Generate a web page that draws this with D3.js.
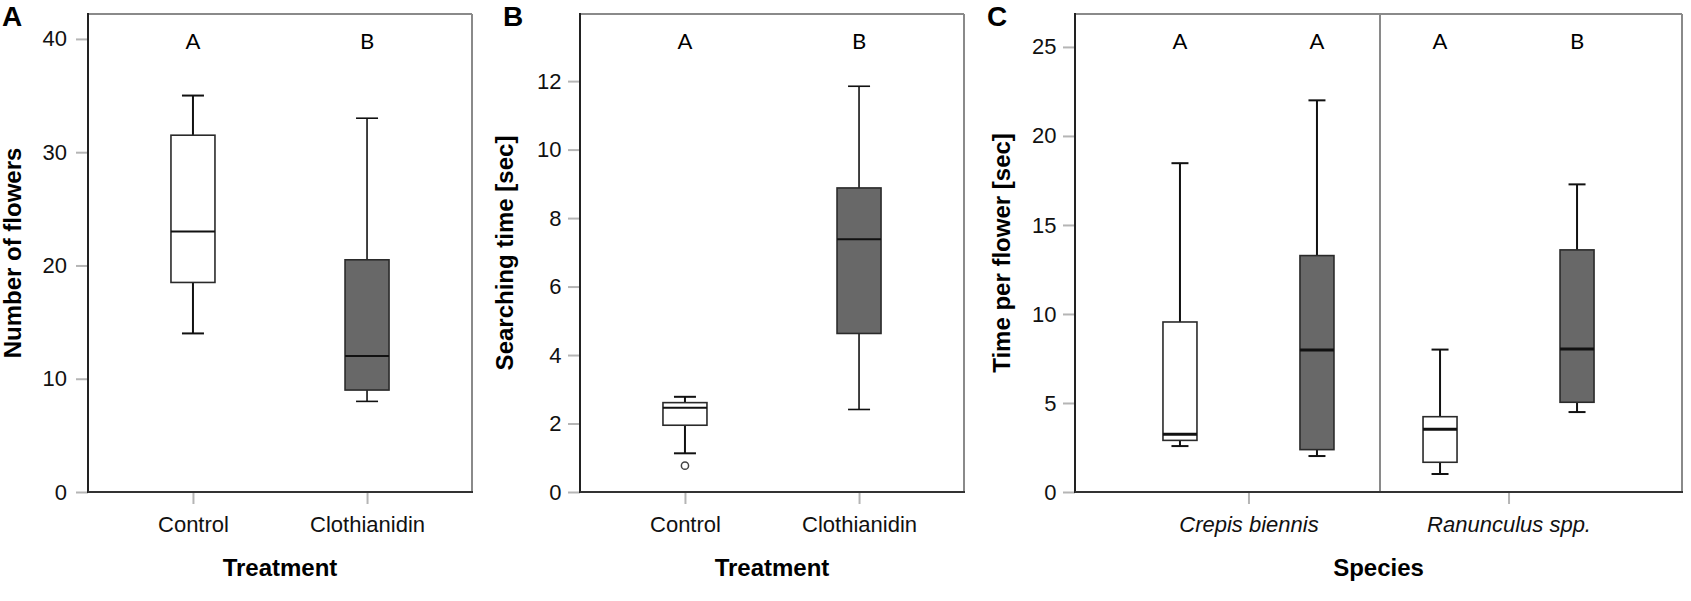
<!DOCTYPE html>
<html>
<head>
<meta charset="utf-8">
<script src="https://cdn.jsdelivr.net/npm/d3@7/dist/d3.min.js"></script>
<style>
  html, body { margin: 0; padding: 0; background: #fff; }
  svg { display: block; }
</style>
</head>
<body>
<svg id="chart" width="1691" height="601"></svg>
<script>
// ---------------- DATA ----------------
const treatments = ["Control", "Clothianidin"];

// Panel A: Number of flowers
const flowersLow  = [14, 8];
const flowersQ1   = [18.5, 9];
const flowersMed  = [23, 12];
const flowersQ3   = [31.5, 20.5];
const flowersHigh = [35, 33];
const flowersOutliers = [[], []];
const flowersLetters = ["A", "B"];
const flowersTicks = [0, 10, 20, 30, 40];

// Panel B: Searching time [sec]
const searchLow  = [1.13, 2.41];
const searchQ1   = [1.95, 4.63];
const searchMed  = [2.46, 7.38];
const searchQ3   = [2.61, 8.88];
const searchHigh = [2.78, 11.85];
const searchOutliers = [[0.77], []];
const searchLetters = ["A", "B"];
const searchTicks = [0, 2, 4, 6, 8, 10, 12];

// Panel C: Time per flower [sec], by species (rows) x treatment (cols)
const species = ["Crepis biennis", "Ranunculus spp."];
const timeLow  = [[2.58, 2.02], [1.01, 4.49]];
const timeQ1   = [[2.9, 2.38], [1.67, 5.04]];
const timeMed  = [[3.24, 7.98], [3.52, 8.03]];
const timeQ3   = [[9.55, 13.28], [4.23, 13.6]];
const timeHigh = [[18.47, 22.0], [8.0, 17.28]];
const timeLetters = [["A", "A"], ["A", "B"]];
const timeTicks = [0, 5, 10, 15, 20, 25];

// ---------------- STYLE ----------------
const TICK_FONT = "'Liberation Sans', Arial, sans-serif";
const LETTER_FONT = "Lato, 'Open Sans', sans-serif";
const FILL = { "Control": "#ffffff", "Clothianidin": "#686868" };
const TOP = 14, BOTTOM = 492;

const svg = d3.select("#chart");

function frame(g, x0, x1) {
  g.append("line").attr("x1", x0).attr("x2", x1).attr("y1", TOP).attr("y2", TOP)
    .attr("stroke", "#8a8a8a").attr("stroke-width", 2);
  g.append("line").attr("x1", x1).attr("x2", x1).attr("y1", TOP).attr("y2", BOTTOM)
    .attr("stroke", "#8a8a8a").attr("stroke-width", 2);
  g.append("line").attr("x1", x0).attr("x2", x0).attr("y1", TOP - 1).attr("y2", BOTTOM + 1)
    .attr("stroke", "#222").attr("stroke-width", 2);
  g.append("line").attr("x1", x0).attr("x2", x1 + 1).attr("y1", BOTTOM).attr("y2", BOTTOM)
    .attr("stroke", "#333").attr("stroke-width", 2);
}

function yAxis(g, y, ticks, x0, pad) {
  const ax = g.append("g").attr("transform", `translate(${x0},0)`)
    .call(d3.axisLeft(y).tickValues(ticks).tickSize(12).tickPadding(pad).tickFormat(d3.format("d")));
  ax.select(".domain").remove();
  ax.selectAll(".tick line").attr("stroke", "#b5b5b5").attr("stroke-width", 2);
  ax.selectAll(".tick text").attr("font-family", TICK_FONT).attr("font-size", 22).attr("fill", "#111");
}

function xAxis(g, x, italic) {
  const ax = g.append("g").attr("transform", `translate(0,${BOTTOM})`)
    .call(d3.axisBottom(x).tickSize(12).tickPadding(12.4));
  ax.select(".domain").remove();
  ax.selectAll(".tick line").attr("stroke", "#b5b5b5").attr("stroke-width", 2);
  ax.selectAll(".tick text").attr("font-family", TICK_FONT).attr("font-size", 22).attr("fill", "#111")
    .attr("font-style", italic ? "italic" : "normal");
}

function box(g, cx, w, y, s, fill, medW, lineW) {
  const cap = w / 2;
  g.append("line").attr("x1", cx).attr("x2", cx).attr("y1", y(s.high)).attr("y2", y(s.q3))
    .attr("stroke", "#111").attr("stroke-width", lineW);
  g.append("line").attr("x1", cx).attr("x2", cx).attr("y1", y(s.q1)).attr("y2", y(s.low))
    .attr("stroke", "#111").attr("stroke-width", lineW);
  g.append("line").attr("x1", cx - cap / 2).attr("x2", cx + cap / 2).attr("y1", y(s.high)).attr("y2", y(s.high))
    .attr("stroke", "#111").attr("stroke-width", lineW);
  g.append("line").attr("x1", cx - cap / 2).attr("x2", cx + cap / 2).attr("y1", y(s.low)).attr("y2", y(s.low))
    .attr("stroke", "#111").attr("stroke-width", lineW);
  g.append("rect").attr("x", cx - w / 2).attr("width", w)
    .attr("y", y(s.q3)).attr("height", y(s.q1) - y(s.q3))
    .attr("fill", fill).attr("stroke", "#2a2a2a").attr("stroke-width", 1.6);
  g.append("line").attr("x1", cx - w / 2).attr("x2", cx + w / 2).attr("y1", y(s.med)).attr("y2", y(s.med))
    .attr("stroke", "#111").attr("stroke-width", medW);
  s.out.forEach(o => {
    g.append("circle").attr("cx", cx).attr("cy", y(o)).attr("r", 3.6)
      .attr("fill", "#fff").attr("stroke", "#444").attr("stroke-width", 1.5);
  });
}

function letter(g, x, txt) {
  g.append("text").attr("x", x).attr("y", 49).attr("text-anchor", "middle")
    .attr("font-family", LETTER_FONT).attr("font-size", 22).attr("fill", "#000").text(txt);
}

function panelLabel(g, x, txt) {
  g.append("text").attr("x", x).attr("y", 26).attr("font-family", TICK_FONT)
    .attr("font-weight", "bold").attr("font-size", 28).attr("fill", "#000").text(txt);
}

function yTitle(g, x, txt) {
  g.append("text").attr("transform", `translate(${x},${(TOP + BOTTOM) / 2}) rotate(-90)`)
    .attr("text-anchor", "middle").attr("font-family", TICK_FONT).attr("font-weight", "bold")
    .attr("font-size", 24).attr("fill", "#000").text(txt);
}

function xTitle(g, x, txt) {
  g.append("text").attr("x", x).attr("y", 576).attr("text-anchor", "middle")
    .attr("font-family", TICK_FONT).attr("font-weight", "bold")
    .attr("font-size", 24).attr("fill", "#000").text(txt);
}

function simplePanel(opts) {
  const g = svg.append("g");
  const x = d3.scalePoint().domain(treatments).range([opts.x0, opts.x1]).padding(0.603);
  const y = d3.scaleLinear().domain([0, opts.ymax]).range([BOTTOM, TOP]);
  yAxis(g, y, opts.ticks, opts.x0, opts.pad);
  xAxis(g, x, false);
  treatments.forEach((t, i) => {
    box(g, x(t), 44, y, {
      low: opts.low[i], q1: opts.q1[i], med: opts.med[i], q3: opts.q3[i], high: opts.high[i], out: opts.out[i]
    }, FILL[t], 2, t === "Control" ? 2 : 1.6);
    letter(g, x(t), opts.letters[i]);
  });
  frame(g, opts.x0, opts.x1);
  panelLabel(g, opts.labelX, opts.label);
  yTitle(g, opts.titleX, opts.ytitle);
  xTitle(g, (opts.x0 + opts.x1) / 2, "Treatment");
}

simplePanel({
  x0: 88, x1: 472, ymax: 42.2, ticks: flowersTicks, pad: 9,
  low: flowersLow, q1: flowersQ1, med: flowersMed, q3: flowersQ3, high: flowersHigh, out: flowersOutliers,
  letters: flowersLetters, label: "A", labelX: 2, titleX: 21, ytitle: "Number of flowers"
});

simplePanel({
  x0: 580, x1: 964, ymax: 13.96, ticks: searchTicks, pad: 6.5,
  low: searchLow, q1: searchQ1, med: searchMed, q3: searchQ3, high: searchHigh, out: searchOutliers,
  letters: searchLetters, label: "B", labelX: 503, titleX: 513, ytitle: "Searching time [sec]"
});

// Panel C
(function () {
  const g = svg.append("g");
  const x0 = 1075, x1 = 1682;
  const xs = d3.scalePoint().domain(species).range([x0, x1]).padding(0.667);
  const xt = d3.scalePoint().domain(treatments).range([-68.5, 68.5]);
  const y = d3.scaleLinear().domain([0, 26.85]).range([BOTTOM, TOP]);
  yAxis(g, y, timeTicks, x0, 6.5);
  xAxis(g, xs, true);
  species.forEach((sp, si) => {
    treatments.forEach((t, ti) => {
      const cx = xs(sp) + xt(t);
      box(g, cx, 34, y, {
        low: timeLow[si][ti], q1: timeQ1[si][ti], med: timeMed[si][ti],
        q3: timeQ3[si][ti], high: timeHigh[si][ti], out: []
      }, FILL[t], 3, 2);
      letter(g, cx, timeLetters[si][ti]);
    });
  });
  const divX = (xs(species[0]) + xs(species[1])) / 2 + 1.5;
  g.append("line").attr("x1", divX).attr("x2", divX).attr("y1", TOP).attr("y2", BOTTOM)
    .attr("stroke", "#8a8a8a").attr("stroke-width", 2);
  frame(g, x0, x1);
  panelLabel(g, 987, "C");
  yTitle(g, 1010, "Time per flower [sec]");
  xTitle(g, (x0 + x1) / 2, "Species");
})();
</script>
</body>
</html>
